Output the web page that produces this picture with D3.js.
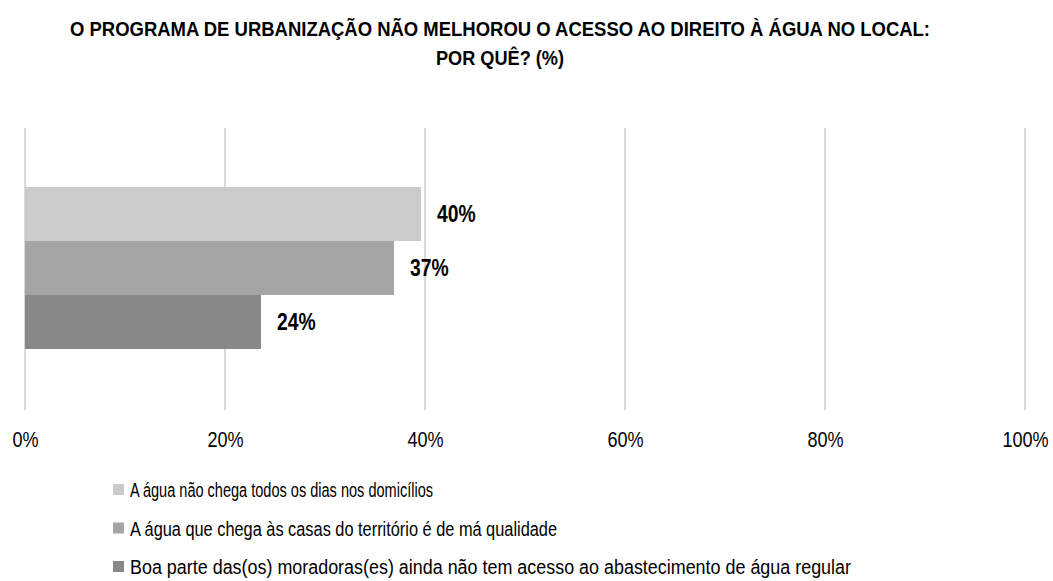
<!DOCTYPE html>
<html>
<head>
<meta charset="utf-8">
<script src="https://cdn.jsdelivr.net/npm/d3@7"></script>
<style>
  body { margin: 0; background: #fff; }
  svg text { font-family: "Liberation Sans", Arial, sans-serif; }
</style>
</head>
<body>
<div id="chart"></div>
<script>
const titleLines = ["O PROGRAMA DE URBANIZAÇÃO NÃO MELHOROU O ACESSO AO DIREITO À ÁGUA NO LOCAL:", "POR QUÊ? (%)"];
const series = [
    "A água não chega todos os dias nos domicílios",
    "A água que chega às casas do território é de má qualidade",
    "Boa parte das(os) moradoras(es) ainda não tem acesso ao abastecimento de água regular"
];
const values = [39.6, 36.9, 23.6];
const labels = ["40%", "37%", "24%"];
const colors = ["#cbcbcb", "#a5a5a5", "#888888"];
const ticks = [0, 20, 40, 60, 80, 100];

// the reference uses a condensed face, so long texts are squeezed to the measured widths
const titleWidths = [860, 128];
const legendWidths = [303, 427, 721];

const width = 1053, height = 581;
const svg = d3.select("#chart").append("svg")
    .attr("width", width)
    .attr("height", height);

// squeeze a text selection horizontally by factor k
function condense(sel, k) {
    sel.each(function() {
        const w = this.getComputedTextLength();
        d3.select(this)
          .attr("textLength", w * k)
          .attr("lengthAdjust", "spacingAndGlyphs");
    });
}

// title
svg.selectAll(".title")
    .data(titleLines)
    .enter()
    .append("text")
    .attr("x", 500)
    .attr("y", (d, i) => 36 + i * 29)
    .attr("text-anchor", "middle")
    .attr("font-size", 21)
    .attr("font-weight", "bold")
    .attr("fill", "#000")
    .attr("textLength", (d, i) => titleWidths[i])
    .attr("lengthAdjust", "spacingAndGlyphs")
    .text(d => d);

const x = d3.scaleLinear().domain([0, 100]).range([25, 1025]);
const y = d3.scaleBand().domain(d3.range(series.length)).range([187, 349]);

// gridlines
svg.selectAll(".grid")
    .data(ticks)
    .enter()
    .append("line")
    .attr("x1", d => x(d))
    .attr("x2", d => x(d))
    .attr("y1", 128)
    .attr("y2", 410)
    .attr("stroke", "#d9d9d9")
    .attr("stroke-width", 2);

// bars
svg.selectAll(".bar")
    .data(values)
    .enter()
    .append("rect")
    .attr("x", x(0))
    .attr("y", (d, i) => y(i))
    .attr("width", d => x(d) - x(0))
    .attr("height", y.bandwidth())
    .attr("fill", (d, i) => colors[i]);

// value labels
svg.selectAll(".val")
    .data(values)
    .enter()
    .append("text")
    .attr("x", d => x(d) + 16)
    .attr("y", (d, i) => y(i) + y.bandwidth() / 2 + 8)
    .attr("font-size", 23)
    .attr("font-weight", "bold")
    .attr("fill", "#000")
    .text((d, i) => labels[i])
    .call(condense, 0.84);

// x axis labels
const axis = d3.axisBottom(x).tickValues(ticks).tickFormat(d => d + "%").tickSize(0).tickPadding(0);
const ax = svg.append("g").attr("transform", "translate(0,447)").call(axis);
ax.select(".domain").remove();
ax.selectAll("text")
    .attr("dy", 0)
    .attr("font-size", 22)
    .attr("fill", "#000")
    .style("font-family", "'Liberation Sans', Arial, sans-serif")
    .call(condense, 0.82);

// legend
const legend = svg.selectAll(".legend")
    .data(series)
    .enter()
    .append("g")
    .attr("transform", (d, i) => `translate(113,${490 + i * 38.5})`);

legend.append("rect")
    .attr("x", 0)
    .attr("y", -6)
    .attr("width", 11)
    .attr("height", 11)
    .attr("fill", (d, i) => colors[i]);

legend.append("text")
    .attr("x", 17)
    .attr("y", 7)
    .attr("font-size", 20)
    .attr("fill", "#000")
    .attr("textLength", (d, i) => legendWidths[i])
    .attr("lengthAdjust", "spacingAndGlyphs")
    .text(d => d);
</script>
</body>
</html>
